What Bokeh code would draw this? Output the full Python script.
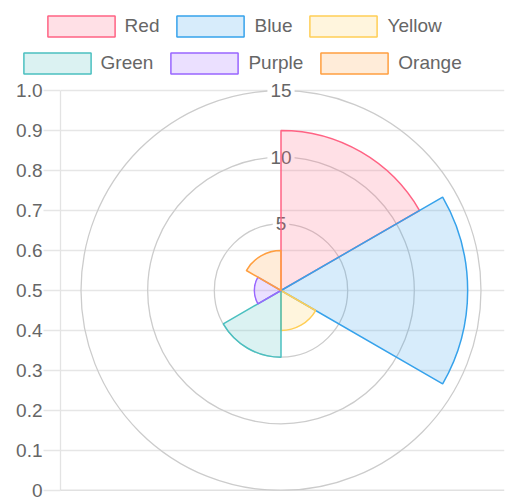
import numpy as np
from bokeh.plotting import figure
from bokeh.layouts import column
from bokeh.core.properties import value
from bokeh.models import Range1d, FixedTicker, Legend, LegendItem, Span
from bokeh.embed import file_html
from bokeh.resources import INLINE

# polar area data
labels = ["Red", "Blue", "Yellow", "Green", "Purple", "Orange"]
values = [12, 14, 3, 5, 2, 3]
colors = ["#ff6384", "#36a2eb", "#ffce56", "#4bc0c0", "#9966ff", "#ff9f40"]

# radial scale
ring_values = [5, 10, 15]
ring_labels = ["5", "10", "15"]

# cartesian y axis
y_ticks = [0, 0.1, 0.2, 0.3, 0.4, 0.5, 0.6, 0.7, 0.8, 0.9, 1.0]
y_tick_labels = ["0", "0.1", "0.2", "0.3", "0.4", "0.5", "0.6", "0.7", "0.8", "0.9", "1.0"]

FONT = "Liberation Sans"
TEXT = "#666666"

W = 517
LEG_H = 78
H = 422
B_LEFT, B_RIGHT, B_BOTTOM = 60, 13, 10
PAD_TOP = 12                      # room above the 1.0 line for the "15" label
frame_w = W - B_LEFT - B_RIGHT
frame_h = H - B_BOTTOM
axis_h = frame_h - PAD_TOP
rmax = ring_values[-1]
ppu = axis_h / (2 * rmax)
half_w = frame_w / ppu / 2
shift = 1.5 / ppu

p = figure(width=W, height=H, output_backend="svg", toolbar_location=None,
           x_range=(0, 1), y_range=Range1d(0, frame_h / axis_h), x_axis_location=None,
           min_border_left=B_LEFT, min_border_right=B_RIGHT,
           min_border_top=0, min_border_bottom=B_BOTTOM)
p.frame_align = False
p.extra_x_ranges = {"px": Range1d(-half_w + shift, half_w + shift)}
p.extra_y_ranges = {"py": Range1d(-rmax, -rmax + frame_h / ppu)}
p.outline_line_color = None
p.xgrid.visible = False

p.ygrid.grid_line_color = "#e6e6e6"
p.ygrid.grid_line_width = 1.3
ax = p.yaxis[0]
ax.bounds = (0, 1)
ax.ticker = FixedTicker(ticks=y_ticks)
ax.major_label_overrides = {t: s for t, s in zip(y_ticks, y_tick_labels)}
ax.axis_line_color = "#e3e3e3"
ax.axis_line_width = 1.3
ax.major_tick_line_color = "#e6e6e6"
ax.major_tick_line_width = 1.3
ax.major_tick_in = 0
ax.major_tick_out = 17
ax.minor_tick_line_color = None
ax.major_label_standoff = 1
ax.major_label_text_font = FONT
ax.major_label_text_font_size = "19px"
ax.major_label_text_color = TEXT

p.add_layout(Span(location=0, dimension="width", line_color="#c4c4c4", line_width=1.6))

# radial rings and tick labels
p.circle(x=[0] * len(ring_values), y=[0] * len(ring_values), radius=ring_values,
         fill_color=None, line_color="#cccccc", line_width=1.3,
         x_range_name="px", y_range_name="py")
p.text(x=[0] * len(ring_values), y=ring_values, text=ring_labels,
       text_align="center", text_baseline="middle", text_font_size="19px",
       text_font=value(FONT), text_color=TEXT, background_fill_color="white", padding=3,
       x_range_name="px", y_range_name="py")

# slices: start at top, clockwise
n = len(values)
step = 360 / n
for i, (v, c) in enumerate(zip(values, colors)):
    end = np.deg2rad(90 - step * i)
    start = np.deg2rad(90 - step * (i + 1))
    p.wedge(x=0, y=0, radius=v, start_angle=start, end_angle=end,
            fill_color=c, fill_alpha=0.2, line_color=c, line_width=1.5,
            x_range_name="px", y_range_name="py")

# legend strip above the chart (zero-size proxy glyphs outside the view)
lg = figure(width=W, height=LEG_H, output_backend="svg", toolbar_location=None,
            x_range=(1, 2), y_range=(1, 2), x_axis_location=None, y_axis_location=None,
            min_border=0)
lg.frame_align = False
lg.outline_line_color = None
lg.grid.visible = False
items = []
for lab, c in zip(labels, colors):
    r = lg.wedge(x=[0], y=[0], radius=[0], start_angle=[0], end_angle=[1],
                 fill_color=c, fill_alpha=0.2, line_color=c, line_width=1.5)
    items.append(LegendItem(label=lab, renderers=[r]))

rows = [(items[:3], 38.6, 39.5), (items[3:], 14.6, 2.5)]
for its, lx, ly in rows:
    leg = Legend(items=its, orientation="horizontal", location=(lx, ly),
                 glyph_width=84, glyph_height=26, label_standoff=2, spacing=9,
                 padding=0, margin=0, border_line_color=None,
                 background_fill_alpha=0, label_text_font=FONT,
                 label_text_font_size="19px", label_text_color=TEXT)
    lg.add_layout(leg, "center")

layout = column(lg, p, spacing=0)
open("out.html", "w").write(file_html(layout, INLINE))
